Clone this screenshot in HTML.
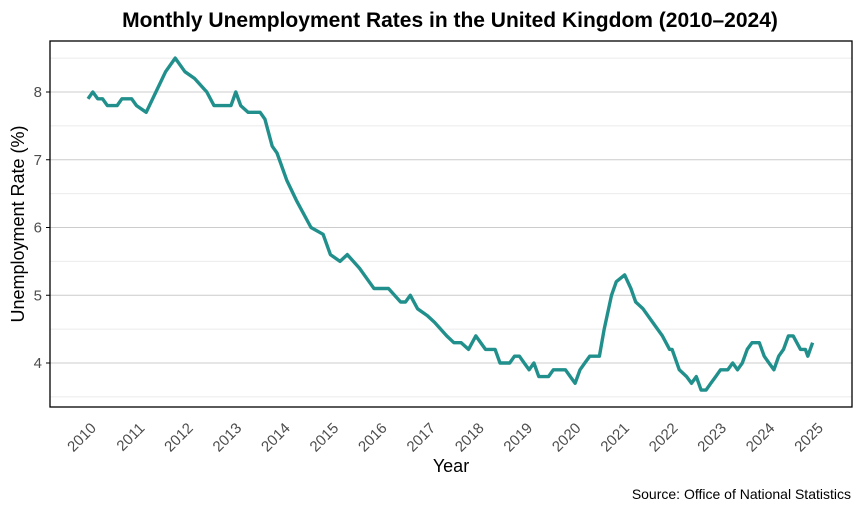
<!DOCTYPE html>
<html><head><meta charset="utf-8"><style>
body{margin:0;background:#fff;}
svg{display:block;font-family:"Liberation Sans",Arial,sans-serif;}
</style></head><body>
<svg id="chart" width="862" height="511">
<text x="450" y="27" text-anchor="middle" font-size="21" font-weight="bold" fill="#000">Monthly Unemployment Rates in the United Kingdom (2010–2024)</text>
<g id="grid"></g>
<g id="axes"></g>
<path id="line" fill="none" stroke="#21908C" stroke-width="3.4" stroke-linejoin="round"></path>
<text transform="translate(24,224) rotate(-90)" text-anchor="middle" font-size="18" fill="#000">Unemployment Rate (%)</text>
<text x="451" y="472" text-anchor="middle" font-size="18" fill="#000">Year</text>
<text x="851" y="499" text-anchor="end" font-size="14" fill="#000">Source: Office of National Statistics</text>
</svg>
<script>
const dates=[2010.0,2010.1,2010.2,2010.3,2010.4,2010.6,2010.7,2010.9,2011.0,2011.2,2011.4,2011.6,2011.8,2012.0,2012.2,2012.45,2012.6,2012.95,2013.05,2013.15,2013.3,2013.55,2013.65,2013.8,2013.9,2014.1,2014.3,2014.6,2014.85,2015.0,2015.2,2015.35,2015.6,2015.8,2015.9,2016.2,2016.45,2016.55,2016.65,2016.8,2017.0,2017.15,2017.4,2017.55,2017.7,2017.85,2018.0,2018.2,2018.4,2018.5,2018.7,2018.8,2018.9,2019.0,2019.1,2019.2,2019.3,2019.5,2019.6,2019.85,2019.95,2020.05,2020.15,2020.25,2020.35,2020.55,2020.65,2020.8,2020.9,2021.07,2021.2,2021.3,2021.45,2021.65,2021.85,2022.0,2022.05,2022.2,2022.35,2022.45,2022.55,2022.65,2022.75,2022.85,2022.95,2023.05,2023.2,2023.3,2023.4,2023.5,2023.6,2023.7,2023.85,2023.95,2024.05,2024.15,2024.25,2024.35,2024.45,2024.55,2024.7,2024.8,2024.85,2024.95];
const rates=[7.9,8.0,7.9,7.9,7.8,7.8,7.9,7.9,7.8,7.7,8.0,8.3,8.5,8.3,8.2,8.0,7.8,7.8,8.0,7.8,7.7,7.7,7.6,7.2,7.1,6.7,6.4,6.0,5.9,5.6,5.5,5.6,5.4,5.2,5.1,5.1,4.9,4.9,5.0,4.8,4.7,4.6,4.4,4.3,4.3,4.2,4.4,4.2,4.2,4.0,4.0,4.1,4.1,4.0,3.9,4.0,3.8,3.8,3.9,3.9,3.8,3.7,3.9,4.0,4.1,4.1,4.5,5.0,5.2,5.3,5.1,4.9,4.8,4.6,4.4,4.2,4.2,3.9,3.8,3.7,3.8,3.6,3.6,3.7,3.8,3.9,3.9,4.0,3.9,4.0,4.2,4.3,4.3,4.1,4.0,3.9,4.1,4.2,4.4,4.4,4.2,4.2,4.1,4.3];
const xTicks=[2010,2011,2012,2013,2014,2015,2016,2017,2018,2019,2020,2021,2022,2023,2024,2025];
const yTicks=[4,5,6,7,8];
const yMinor=[3.5,4.5,5.5,6.5,7.5,8.5];

const L=50,R=852,T=41,B=407;
const xs=v=>88+(v-2010)*48.47;
const ys=v=>92+(8-v)*67.75;
const NS="http://www.w3.org/2000/svg";
function mk(tag,attrs,parent){const e=document.createElementNS(NS,tag);for(const k in attrs)e.setAttribute(k,attrs[k]);parent.appendChild(e);return e;}
const grid=document.getElementById('grid'),axes=document.getElementById('axes');
yMinor.forEach(v=>{
  const l=mk('line',{x1:L,x2:R,y1:ys(v),y2:ys(v),stroke:'#ebebeb','stroke-width':1},grid);
  
  
});
yTicks.forEach(v=>{
  const l=mk('line',{x1:L,x2:R,y1:ys(v),y2:ys(v),stroke:'#cccccc','stroke-width':1},grid);
  
  
  const t=mk('line',{x1:L-4,x2:L,y1:ys(v),y2:ys(v),stroke:'#000','stroke-width':1},axes);
  
  
  const tx=mk('text',{x:L-8,y:ys(v)+5,'text-anchor':'end','font-size':15,fill:'#4d4d4d'},axes);
  tx.textContent=v;
  
  
});
const frame=mk('rect',{x:L,y:T,width:R-L,height:B-T,fill:'none',stroke:'#000','stroke-width':1.3},axes);


xTicks.forEach(v=>{
  const x=xs(v);
  const tx=mk('text',{transform:`translate(${x+9},${B+22}) rotate(-45)`,'text-anchor':'end','font-size':15,fill:'#4d4d4d'},axes);
  tx.textContent=v;
  
  
});
let d='';
dates.forEach((dt,i)=>{d+=(i?'L':'M')+xs(dt).toFixed(1)+','+ys(rates[i]).toFixed(1);});
document.getElementById('line').setAttribute('d',d);
</script>
</body></html>
